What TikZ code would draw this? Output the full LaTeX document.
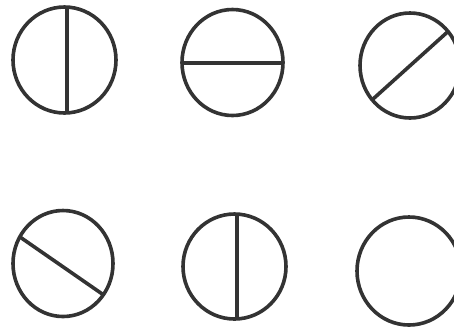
\documentclass[tikz,border=0pt]{standalone}
\begin{document}
\begin{tikzpicture}[x=0.5pt,y=-0.5pt,
  disc/.style={draw=black!80, line width=1.8pt},
  bar/.style={draw=black!80, line width=1.8pt}]
\useasboundingbox (0,0) rectangle (454,334);
\clip (0,0) rectangle (454,334);
% row 1
\draw[disc] (64.5,60) ellipse [x radius=51.5, y radius=53];
\draw[bar] (67,7.2) -- (67,112.8);
\draw[disc] (232.5,62.5) ellipse [x radius=50.5, y radius=53];
\draw[bar] (182,63) -- (283,63);
\draw[disc] (410,65.5) ellipse [x radius=50, y radius=52.5];
\draw[bar] (372.5,99.5) -- (448,31.5);
% row 2
\draw[disc] (63,263.5) ellipse [x radius=50, y radius=53];
\draw[bar] (20,237) -- (103,294.5);
\draw[disc] (234.5,266.5) ellipse [x radius=51.5, y radius=52.5];
\draw[bar] (237,214) -- (237,319);
\draw[disc] (409,271) ellipse [x radius=52, y radius=54];
\end{tikzpicture}
\end{document}
